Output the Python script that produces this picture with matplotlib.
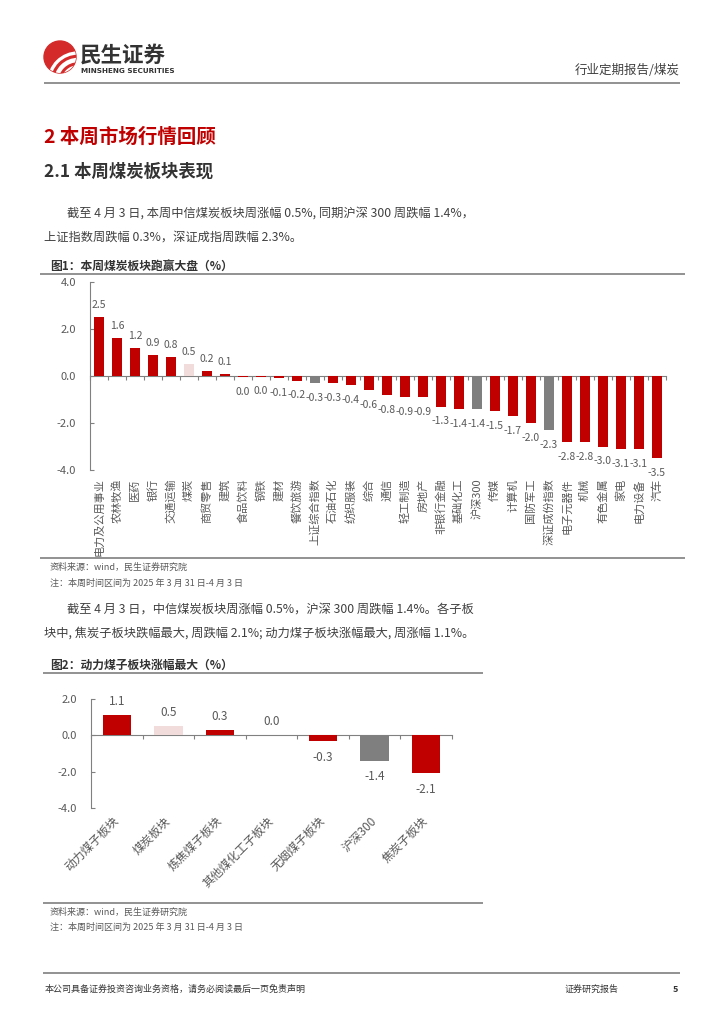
import matplotlib
matplotlib.use("Agg")
import matplotlib.pyplot as plt
from matplotlib.patches import Circle, Arc
import numpy as np

plt.rcParams['font.family'] = ['Noto Sans CJK SC', 'DejaVu Sans']

# 图1 data
cats1 = ['电力及公用事业', '农林牧渔', '医药', '银行', '交通运输', '煤炭', '商贸零售', '建筑',
         '食品饮料', '钢铁', '建材', '餐饮旅游', '上证综合指数', '石油石化', '纺织服装', '综合',
         '通信', '轻工制造', '房地产', '非银行金融', '基础化工', '沪深300', '传媒', '计算机',
         '国防军工', '深证成份指数', '电子元器件', '机械', '有色金属', '家电', '电力设备', '汽车']
vals1 = [2.5, 1.6, 1.2, 0.9, 0.8, 0.5, 0.2, 0.1,
         -0.04, -0.03, -0.1, -0.2, -0.3, -0.3, -0.4, -0.6,
         -0.8, -0.9, -0.9, -1.3, -1.4, -1.4, -1.5, -1.7,
         -2.0, -2.3, -2.8, -2.8, -3.0, -3.1, -3.1, -3.5]

# 图2 data
cats2 = ['动力煤子板块', '煤炭板块', '炼焦煤子板块', '其他煤化工子板块', '无烟煤子板块', '沪深300', '焦炭子板块']
vals2 = [1.1, 0.5, 0.3, 0.0, -0.3, -1.4, -2.1]

pink_cats = ['煤炭', '煤炭板块']
gray_cats = ['上证综合指数', '沪深300', '深证成份指数']

RED = '#C00000'
PINK = '#F2DCDB'
GRAY = '#7F7F7F'
AXC = '#808080'
TXT = '#404040'

W, H = 724, 1024
fig = plt.figure(figsize=(W / 100, H / 100), dpi=100)

# page layer in pixel coords
page = fig.add_axes([0, 0, 1, 1])
page.set_xlim(0, W)
page.set_ylim(H, 0)
page.axis('off')


def hline(y, x0, x1, lw=1.0, c='#7F7F7F'):
    page.plot([x0, x1], [y, y], color=c, lw=lw, solid_capstyle='butt')


# header / logo
logo = Circle((60, 57), 16, color='#D42A2A')
page.add_patch(logo)
for (w, lw) in [(30, 2.6), (44, 3.2), (58, 2.4)]:
    a = Arc((78, 82), w, w, theta1=180, theta2=270, color='white', lw=lw)
    page.add_patch(a)
    a.set_clip_path(logo)
page.text(80, 55, '民生证券', fontsize=15.5, fontweight='bold', color='#333333', va='center', ha='left')
page.text(81, 71, 'MINSHENG SECURITIES', fontsize=5.2, fontweight='bold', color='#333333',
          va='center', ha='left', family=['DejaVu Sans'])
page.text(680, 70, '行业定期报告/煤炭', fontsize=9, color=TXT, va='center', ha='right')
hline(83, 44, 680, lw=1.2)

page.text(44, 137, '2 本周市场行情回顾', fontsize=14, fontweight='bold', color=RED, va='center')
page.text(44, 172, '2.1 本周煤炭板块表现', fontsize=12.5, fontweight='bold', color='#333333', va='center')
page.text(67, 213, '截至 4 月 3 日, 本周中信煤炭板块周涨幅 0.5%, 同期沪深 300 周跌幅 1.4%，',
          fontsize=8.8, color=TXT, va='center')
page.text(44, 237, '上证指数周跌幅 0.3%，深证成指周跌幅 2.3%。', fontsize=8.8, color=TXT, va='center')

page.text(50, 266, '图1：本周煤炭板块跑赢大盘（%）', fontsize=8.5, fontweight='bold', color='#333333', va='center')
hline(274, 40, 685, lw=1.2)
hline(558, 40, 685, lw=1.2)
page.text(50, 567, '资料来源：wind，民生证券研究院', fontsize=6.5, color='#595959', va='center')
page.text(50, 583, '注：本周时间区间为 2025 年 3 月 31 日-4 月 3 日', fontsize=6.5, color='#595959', va='center')

page.text(67, 609, '截至 4 月 3 日，中信煤炭板块周涨幅 0.5%，沪深 300 周跌幅 1.4%。各子板',
          fontsize=8.8, color=TXT, va='center')
page.text(44, 633, '块中, 焦炭子板块跌幅最大, 周跌幅 2.1%; 动力煤子板块涨幅最大, 周涨幅 1.1%。',
          fontsize=8.8, color=TXT, va='center')

page.text(50, 665, '图2：动力煤子板块涨幅最大（%）', fontsize=8.5, fontweight='bold', color='#333333', va='center')
hline(673, 43, 483, lw=1.2)
hline(903, 43, 483, lw=1.2)
page.text(50, 912, '资料来源：wind，民生证券研究院', fontsize=6.5, color='#595959', va='center')
page.text(50, 927, '注：本周时间区间为 2025 年 3 月 31 日-4 月 3 日', fontsize=6.5, color='#595959', va='center')

hline(973, 43, 680, lw=1.2)
page.text(45, 989, '本公司具备证券投资咨询业务资格，请务必阅读最后一页免责声明', fontsize=6.5, color='#333333', va='center')
page.text(565, 989, '证券研究报告', fontsize=6.5, color='#333333', va='center')
page.text(678, 989, '5', fontsize=6.5, color='#333333', va='center', ha='right', fontweight='bold')


def ax_px(x0, y0, x1, y1):
    return fig.add_axes([x0 / W, 1 - y1 / H, (x1 - x0) / W, (y1 - y0) / H])


def bar_chart(ax, cats, vals, ymin, ymax, yticks, width, lab_fs, xlab_fs):
    n = len(cats)
    x = np.arange(n)
    colors = [PINK if c in pink_cats else GRAY if c in gray_cats else RED for c in cats]
    ax.bar(x, vals, width=width, color=colors, zorder=2)
    ax.set_xlim(-0.5, n - 0.5)
    ax.set_ylim(ymin, ymax)
    ax.set_yticks(yticks)
    ax.set_yticklabels([f'{t:.1f}' for t in yticks])
    ax.patch.set_alpha(0)
    for s in ['top', 'right', 'bottom']:
        ax.spines[s].set_visible(False)
    ax.spines['left'].set_color(AXC)
    ax.tick_params(axis='y', direction='in', length=3, color=AXC, labelsize=8, labelcolor='#595959', pad=10)
    ax.set_xticks(x)
    ax.set_xticklabels(cats, fontsize=xlab_fs, color='#595959')
    ax.tick_params(axis='x', length=0)
    # zero line with category-boundary ticks
    zf = (0 - ymin) / (ymax - ymin)
    sec = ax.secondary_xaxis(zf)
    sec.set_xticks(np.arange(n + 1) - 0.5, labels=[''] * (n + 1))
    sec.tick_params(length=3, direction='in', color=AXC,
                    labelbottom=False, labeltop=False)
    for sp in sec.spines.values():
        sp.set_color(AXC)
    for v, xi in zip(vals, x):
        txt = f'{v:.1f}'
        if txt == '-0.0':
            txt = '0.0'
        if v >= 0:
            ax.annotate(txt, (xi, v), xytext=(0, 5), textcoords='offset points',
                        ha='center', va='bottom', fontsize=lab_fs, color='#595959')
        else:
            ax.annotate(txt, (xi, v), xytext=(0, -7), textcoords='offset points',
                        ha='center', va='top', fontsize=lab_fs, color='#595959')
    return ax


ax1 = ax_px(90, 282, 666, 470)
bar_chart(ax1, cats1, vals1, -4, 4, [4.0, 2.0, 0.0, -2.0, -4.0], 0.52, 7.5, 8)
for lbl in ax1.get_xticklabels():
    lbl.set_rotation(90)
    lbl.set_va('top')
    lbl.set_ha('center')
ax1.tick_params(axis='x', pad=6)

ax2 = ax_px(91, 699, 452, 808)
bar_chart(ax2, cats2, vals2, -4, 2, [2.0, 0.0, -2.0, -4.0], 0.55, 8.5, 8.5)
for lbl in ax2.get_xticklabels():
    lbl.set_rotation(45)
    lbl.set_rotation_mode('anchor')
    lbl.set_ha('right')
    lbl.set_va('center')
ax2.tick_params(axis='x', pad=8)

fig.savefig('out.png', dpi=100)
